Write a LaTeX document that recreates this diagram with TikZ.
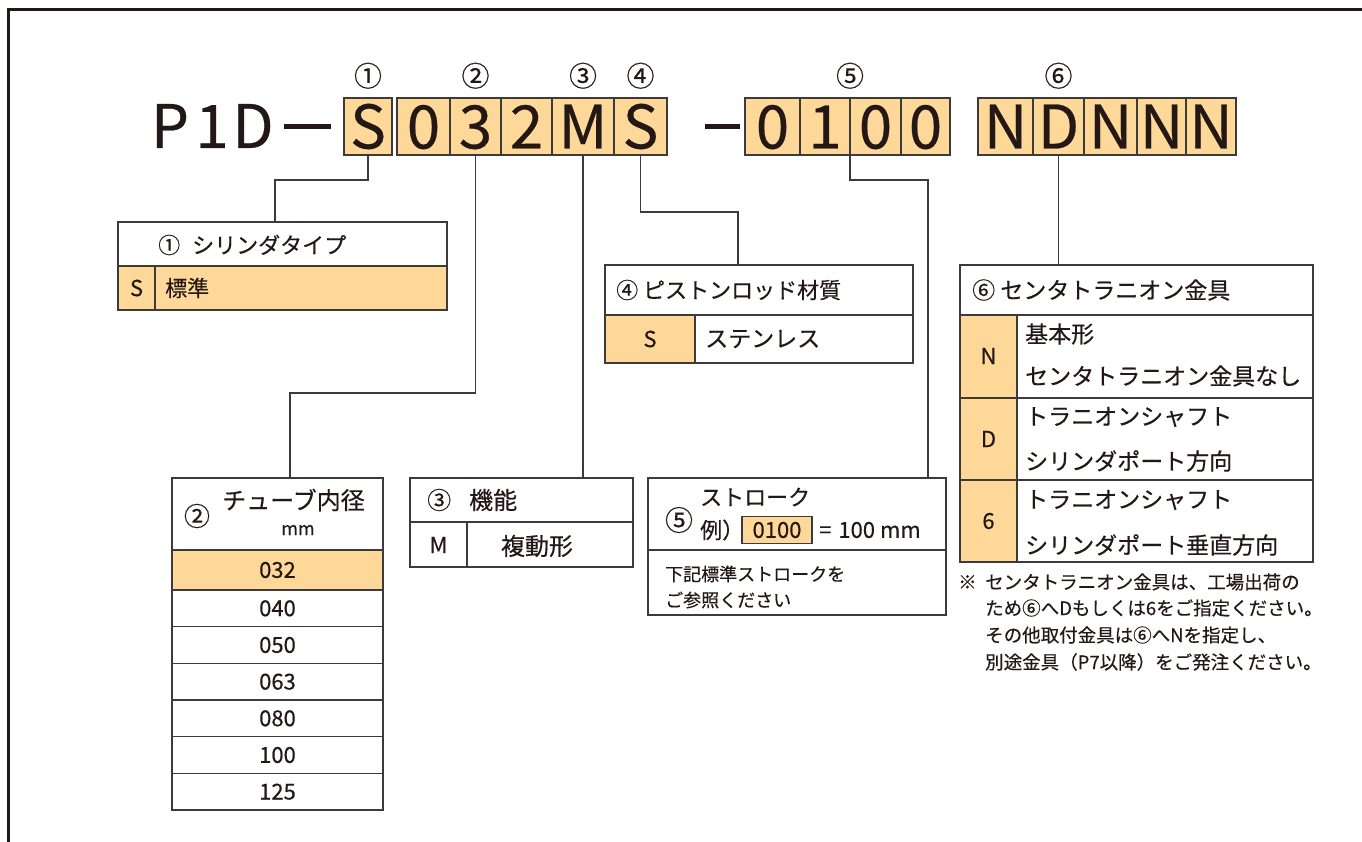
\documentclass[tikz,border=0pt]{standalone}
\usepackage{fontspec}
\setmainfont{Noto Sans CJK JP}[FakeBold=0.4]
\usepackage{xcolor}
\usetikzlibrary{positioning}
\definecolor{codeorange}{HTML}{FDD898}
\definecolor{inkdark}{HTML}{231815}
\definecolor{boxline}{HTML}{3E3A39}
\newcommand{\pxfont}[1]{\fontsize{#1}{#1}\selectfont}

\begin{document}
\begin{tikzpicture}[x=1pt,y=-1pt, text=inkdark,
    codecell/.style={draw=boxline, line width=1.3pt, fill=codeorange, outer sep=0pt, inner sep=0pt, minimum height=57pt, text height=44pt, text depth=0pt, font=\pxfont{60}},
    bigtxt/.style={anchor=base, inner sep=0pt, font=\pxfont{60}},
    circnum/.style={inner sep=0pt, font=\pxfont{28}},
    tbl/.style={draw=boxline, line width=1.3pt},
    hdr/.style={anchor=west, inner sep=0pt, font=\pxfont{22}},
    cellc/.style={inner sep=0pt, font=\pxfont{22}},
    note/.style={anchor=west, inner sep=0pt, font=\pxfont{18.5}},
    conn/.style={draw=boxline, line width=1.1pt}]
    \useasboundingbox (0,0) rectangle (1362,842);
    \draw[inkdark, line width=3pt] (8,842) -- (8,10) -- (1362,10);

    \node[bigtxt] (p) at (170,148) {P};
    \node[bigtxt] (one) at (212,148) {1};
    \node[bigtxt] (d) at (253,148) {D};
    \fill[inkdark] (284,124) rectangle (331,129);
    \node[codecell, minimum width=48pt, anchor=west] (c1) at (344,126.5) {S};
    \node[codecell, minimum width=53pt, anchor=west] (c2) at (397,126.5) {0};
    \node[codecell, minimum width=51pt, right=0pt of c2] (c3) {3};
    \node[codecell, minimum width=51pt, right=0pt of c3] (c4) {2};
    \node[codecell, minimum width=62pt, right=0pt of c4] (cm) {M};
    \node[codecell, minimum width=53pt, right=0pt of cm] (cs) {S};
    \fill[inkdark] (705,124) rectangle (740,129);
    \node[codecell, minimum width=55pt, anchor=west] (c51) at (745,126.5) {0};
    \node[codecell, minimum width=50pt, right=0pt of c51] (c52) {1};
    \node[codecell, minimum width=51pt, right=0pt of c52] (c53) {0};
    \node[codecell, minimum width=49pt, right=0pt of c53] (c54) {0};
    \node[codecell, minimum width=55pt, anchor=west] (c61) at (978,126.5) {N};
    \node[codecell, minimum width=51pt, right=0pt of c61] (c62) {D};
    \node[codecell, minimum width=53pt, right=0pt of c62] (c63) {N};
    \node[codecell, minimum width=49pt, right=0pt of c63] (c64) {N};
    \node[codecell, minimum width=50pt, right=0pt of c64] (c65) {N};

    \node[circnum, above=9pt of c1] (n1) {①};
    \node[circnum, above=9pt of c3] (n2) {②};
    \node[circnum, above=9pt of cm] (n3) {③};
    \node[circnum, above=9pt of cs] (n4) {④};
    \node[circnum, above=9pt of c52.north east] (n5) {⑤};
    \node[circnum, above=9pt of c62] (n6) {⑥};

    \draw[tbl] (118,222) rectangle (447,266);
    \draw[tbl, fill=codeorange] (118,266) rectangle (447,310);
    \draw[tbl] (155,266) -- (155,310);
    \node[hdr] (t1head) at (158,245) {①\hspace{12pt}シリンダタイプ};
    \node[cellc] (t1s) at (136.5,288) {S};
    \node[hdr] (t1txt) at (165,288) {標準};
    \coordinate (t1top) at (275,222);

    \draw[tbl] (172,478) rectangle (383,550);
    \draw[tbl, fill=codeorange] (172,550) rectangle (383,590);
    \node[cellc, font=\pxfont{26}] (t2num) at (197,516) {②};
    \node[hdr, font=\pxfont{24}] (t2head) at (222,500) {チューブ内径};
    \node[cellc, font=\pxfont{18}] (t2unit) at (298,530) {mm};
    \node[cellc] (t2r0) at (277.5,570) {032};
    \foreach \v [count=\i] in {040,050,063,080,100,125} {
        \draw[tbl] (172,{590+(\i-1)*36.67}) rectangle (383,{590+\i*36.67});
        \node[cellc] (t2r\i) at (277.5,{590+(\i-0.5)*36.67}) {\v};
    }
    \coordinate (t2top) at (290,478);

    \draw[tbl] (410,478) rectangle (633,522);
    \draw[tbl] (410,522) rectangle (633,567);
    \draw[tbl] (467,522) -- (467,567);
    \node[hdr, font=\pxfont{24}] (t3head) at (427,500) {③\hspace{18pt}機能};
    \node[cellc] (t3m) at (438.5,545) {M};
    \node[cellc, font=\pxfont{24}] (t3txt) at (537,546) {複動形};
    \coordinate (t3top) at (583,478);

    \draw[tbl] (605,265) rectangle (913,315);
    \draw[tbl] (695,315) rectangle (913,363);
    \draw[tbl, fill=codeorange] (605,315) rectangle (695,363);
    \node[hdr] (t4head) at (616,290) {④ ピストンロッド材質};
    \node[cellc] (t4s) at (650,339) {S};
    \node[hdr, font=\pxfont{23}] (t4txt) at (705,339) {ステンレス};
    \coordinate (t4top) at (738,265);

    \draw[tbl] (648,478) rectangle (946,550);
    \draw[tbl] (648,550) rectangle (946,615);
    \node[cellc, font=\pxfont{28}] (t5num) at (679,520) {⑤};
    \node[hdr] (t5head) at (700,497) {ストローク};
    \node[hdr] (t5ex) at (700,530) {例）};
    \node[tbl, fill=codeorange, cellc, minimum width=70pt, minimum height=27pt] (t5code) at (777,530) {0100};
    \node[hdr] (t5eq) at (819,530) {=\hspace{7pt}100\hspace{5pt}mm};
    \node[hdr, font=\pxfont{18}] (t5note1) at (665,574) {下記標準ストロークを};
    \node[hdr, font=\pxfont{18}] (t5note2) at (665,600) {ご参照ください};
    \coordinate (t5top) at (928,478);

    \draw[tbl] (960,265) rectangle (1313,315);
    \draw[tbl, fill=codeorange] (960,315) rectangle (1017,562);
    \draw[tbl] (1017,315) rectangle (1313,562);
    \draw[tbl] (960,398) -- (1313,398);
    \draw[tbl] (960,480) -- (1313,480);
    \node[hdr, font=\pxfont{23}] (t6head) at (972,290) {⑥ センタトラニオン金具};
    \node[cellc] (t6n) at (988.5,356) {N};
    \node[cellc] (t6d) at (988.5,439) {D};
    \node[cellc] (t6six) at (988.5,521) {6};
    \begin{scope}[every node/.append style={hdr, font=\pxfont{23}}]
    \node (t6a1) at (1025,334) {基本形};
    \node (t6a2) at (1025,376) {センタトラニオン金具なし};
    \node (t6b1) at (1025,417) {トラニオンシャフト};
    \node (t6b2) at (1025,461) {シリンダポート方向};
    \node (t6c1) at (1025,500) {トラニオンシャフト};
    \node (t6c2) at (1025,545) {シリンダポート垂直方向};
    \end{scope}
    \coordinate (t6top) at (1058.5,265);

    \node[note] (nt0) at (958,582) {※};
    \node[note] (nt1) at (985,582) {センタトラニオン金具は、工場出荷の};
    \node[note] (nt2) at (985,608) {ため⑥へDもしくは6をご指定ください。};
    \node[note] (nt3) at (985,635) {その他取付金具は⑥へNを指定し、};
    \node[note] (nt4) at (985,662) {別途金具（P7以降）をご発注ください。};

    \draw[conn] (c1.south) -- ++(0,25) -| (t1top);
    \draw[conn] (c3.south) -- ++(0,238) -| (t2top);
    \draw[conn] (cm.south) -- (t3top);
    \draw[conn] (cs.south) -- ++(0,57) -| (t4top);
    \draw[conn] (c52.south east) -- ++(0,25) -| (t5top);
    \draw[conn] (c62.south) -- (t6top);
\end{tikzpicture}
\end{document}
